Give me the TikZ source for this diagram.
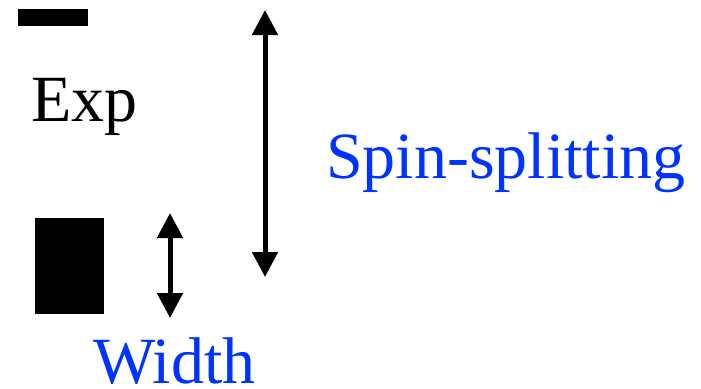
\documentclass[tikz,border=0pt]{standalone}
\usepackage{fontspec}
\setmainfont{Liberation Serif}
\usetikzlibrary{arrows.meta}
\definecolor{labelblue}{RGB}{0,51,255}
\begin{document}
\begin{tikzpicture}[x=1pt,y=-1pt,
  bar/.style={fill=black,draw=none},
  dimarrow/.style={line width=5pt,{Triangle[width=25pt,length=25pt]}-{Triangle[width=25pt,length=25pt]}},
  lbl/.style={inner sep=0pt,anchor=base west,font=\fontsize{66}{72}\selectfont},
  bluelbl/.style={lbl,text=labelblue}]
\useasboundingbox (0,0) rectangle (701,388);
% thin level and broad level
\fill[bar] (18,9) rectangle (88,26);
\fill[bar] (35,218) rectangle (104,314);
% labels
\node[lbl] (exp) at (31,121) {Exp};
\node[bluelbl] (spin) at (326,178) {Spin-splitting};
\node[bluelbl,text depth=0pt] (width) at (93,383) {Width};
% dimension arrows
\coordinate (wtop) at (170,213);
\coordinate (wbot) at (170,318);
\coordinate (stop) at (265,10);
\coordinate (sbot) at (265,277);
\draw[dimarrow] (wtop) -- (wbot);
\draw[dimarrow] (stop) -- (sbot);
\end{tikzpicture}
\end{document}
